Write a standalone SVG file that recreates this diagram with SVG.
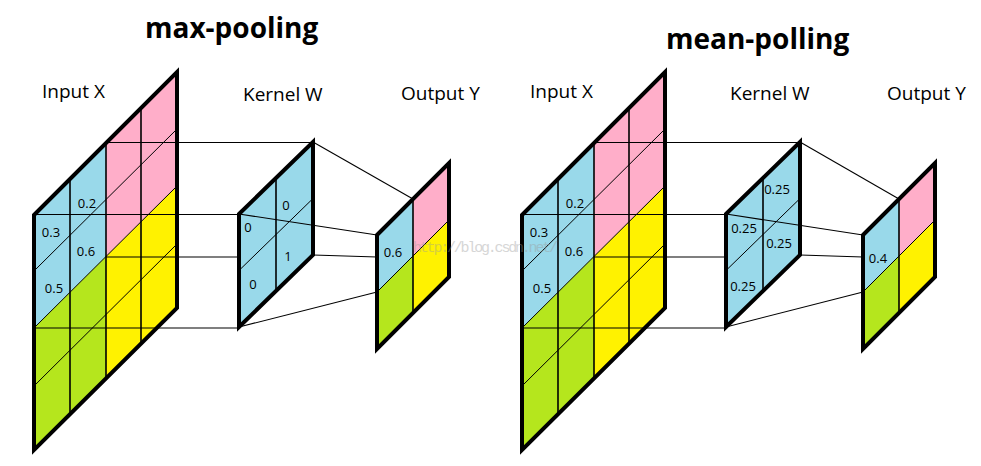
<svg xmlns="http://www.w3.org/2000/svg" width="981" height="466" viewBox="0 0 981 466">
<style>
.bg{fill:#ffffff}
.blue{fill:#99d9ea}
.pink{fill:#ffaec9}
.yellow{fill:#fff200}
.green{fill:#b5e61d}
.outline{fill:none;stroke:#000;stroke-width:4;stroke-linejoin:miter;stroke-miterlimit:3}
.vline{stroke:#000;stroke-width:1.6;fill:none}
.dline{stroke:#000;stroke-width:1;fill:none}
.conn{stroke:#000;stroke-width:1.1;fill:none}
.title{font-family:"Open Sans","Noto Sans","Liberation Sans",sans-serif;font-weight:bold;font-size:28px;fill:#000}
.label{font-family:"Open Sans","Noto Sans","Liberation Sans",sans-serif;font-size:19px;fill:#000}
.num{font-family:"Open Sans","Noto Sans","Liberation Sans",sans-serif;font-size:13px;fill:#000;text-anchor:middle}
.wm{font-family:"Liberation Mono","DejaVu Sans Mono",monospace;font-size:15px;fill:#9a9a9a;opacity:0.4}
</style>
<rect class="bg" x="0" y="0" width="981" height="466"/>

<!-- LEFT: max-pooling -->
<g id="title-max">
<text class="title" x="145" y="38">max-pooling</text>
</g>
<g id="label-input-left"><text class="label" x="42" y="98">Input X</text></g>
<g id="label-kernel-left"><text class="label" x="243" y="101">Kernel W</text></g>
<g id="label-output-left"><text class="label" x="401" y="100">Output Y</text></g>

<g id="input-left">
<polygon class="blue" points="34,215 106,143 106,256.5 34,328"/>
<polygon class="pink" points="106,143 177,72 177,186 106,256.5"/>
<polygon class="green" points="34,328 106,256.5 106,378.5 34,450"/>
<polygon class="yellow" points="106,256.5 177,186 177,308 106,378.5"/>
<line class="vline" x1="70" y1="179" x2="70" y2="414.3"/>
<line class="vline" x1="106" y1="143" x2="106" y2="378.5"/>
<line class="vline" x1="141" y1="108" x2="141" y2="343.7"/>
<line class="dline" x1="34" y1="271" x2="177" y2="129"/>
<line class="dline" x1="34" y1="328" x2="177" y2="186"/>
<line class="dline" x1="34" y1="386" x2="177" y2="244"/>
<polygon class="outline" points="34,215 177,72 177,308 34,450"/>
<text class="num" x="87" y="208">0.2</text>
<text class="num" x="51" y="237">0.3</text>
<text class="num" x="86" y="256">0.6</text>
<text class="num" x="54" y="293">0.5</text>
</g>

<g id="kernel-left">
<polygon class="blue" points="239,214 313,142 313,255 239,327"/>
<line class="vline" x1="276" y1="178" x2="276" y2="291"/>
<line class="dline" x1="239" y1="270.5" x2="313" y2="198.5"/>
<polygon class="outline" points="239,214 313,142 313,255 239,327"/>
<text class="num" x="286" y="210">0</text>
<text class="num" x="248" y="232">0</text>
<text class="num" x="288" y="261">1</text>
<text class="num" x="253" y="289">0</text>
</g>

<g id="output-left">
<polygon class="blue" points="377,235 413,199 413,256 377,292"/>
<polygon class="pink" points="413,199 449,163 449,220 413,256"/>
<polygon class="green" points="377,292 413,256 413,313 377,349"/>
<polygon class="yellow" points="413,256 449,220 449,277 413,313"/>
<line class="vline" x1="413" y1="199" x2="413" y2="313"/>
<line class="dline" x1="377" y1="292" x2="449" y2="220"/>
<polygon class="outline" points="377,235 449,163 449,277 377,349"/>
<text class="num" x="393" y="257">0.6</text>
</g>

<!-- RIGHT: mean-polling -->
<g id="title-mean">
<text class="title" x="666" y="49">mean-polling</text>
</g>
<g id="label-input-right"><text class="label" x="530" y="98">Input X</text></g>
<g id="label-kernel-right"><text class="label" x="730" y="100">Kernel W</text></g>
<g id="label-output-right"><text class="label" x="887" y="100">Output Y</text></g>

<g id="input-right" transform="translate(488,0)">
<polygon class="blue" points="34,215 106,143 106,256.5 34,328"/>
<polygon class="pink" points="106,143 177,72 177,186 106,256.5"/>
<polygon class="green" points="34,328 106,256.5 106,378.5 34,450"/>
<polygon class="yellow" points="106,256.5 177,186 177,308 106,378.5"/>
<line class="vline" x1="70" y1="179" x2="70" y2="414.3"/>
<line class="vline" x1="106" y1="143" x2="106" y2="378.5"/>
<line class="vline" x1="141" y1="108" x2="141" y2="343.7"/>
<line class="dline" x1="34" y1="271" x2="177" y2="129"/>
<line class="dline" x1="34" y1="328" x2="177" y2="186"/>
<line class="dline" x1="34" y1="386" x2="177" y2="244"/>
<polygon class="outline" points="34,215 177,72 177,308 34,450"/>
<text class="num" x="87" y="208">0.2</text>
<text class="num" x="51" y="237">0.3</text>
<text class="num" x="86" y="256">0.6</text>
<text class="num" x="54" y="293">0.5</text>
</g>

<g id="kernel-right" transform="translate(487,0)">
<polygon class="blue" points="239,214 313,142 313,255 239,327"/>
<line class="vline" x1="276" y1="178" x2="276" y2="291"/>
<line class="dline" x1="239" y1="270.5" x2="313" y2="198.5"/>
<polygon class="outline" points="239,214 313,142 313,255 239,327"/>
<text class="num" x="290" y="194">0.25</text>
<text class="num" x="257" y="233">0.25</text>
<text class="num" x="292" y="248">0.25</text>
<text class="num" x="256" y="291">0.25</text>
</g>

<g id="output-right" transform="translate(486,0)">
<polygon class="blue" points="377,235 413,199 413,256 377,292"/>
<polygon class="pink" points="413,199 449,163 449,220 413,256"/>
<polygon class="green" points="377,292 413,256 413,313 377,349"/>
<polygon class="yellow" points="413,256 449,220 449,277 413,313"/>
<line class="vline" x1="413" y1="199" x2="413" y2="313"/>
<line class="dline" x1="377" y1="292" x2="449" y2="220"/>
<polygon class="outline" points="377,235 449,163 449,277 377,349"/>
<text class="num" x="392" y="263">0.4</text>
</g>

<g id="connectors">
<g id="connectors-left">
<line class="conn" x1="106" y1="142.5" x2="313" y2="142.5"/>
<line class="conn" x1="34" y1="214.5" x2="239" y2="214.5"/>
<line class="conn" x1="106" y1="257" x2="239" y2="257"/>
<line class="conn" x1="34" y1="328" x2="239" y2="328"/>
<line class="conn" x1="313" y1="142" x2="413" y2="199"/>
<line class="conn" x1="239" y1="214" x2="377" y2="235"/>
<line class="conn" x1="313" y1="255" x2="377" y2="257"/>
<line class="conn" x1="239" y1="327" x2="377" y2="292"/>
</g>
<g id="connectors-right">
<line class="conn" x1="594" y1="142.5" x2="800" y2="142.5"/>
<line class="conn" x1="522" y1="214.5" x2="726" y2="214.5"/>
<line class="conn" x1="594" y1="257" x2="726" y2="257"/>
<line class="conn" x1="522" y1="328" x2="726" y2="328"/>
<line class="conn" x1="800" y1="142" x2="899" y2="199"/>
<line class="conn" x1="726" y1="214" x2="863" y2="235"/>
<line class="conn" x1="800" y1="255" x2="863" y2="257"/>
<line class="conn" x1="726" y1="327" x2="863" y2="292"/>
</g>
</g>

<g id="watermark">
<text class="wm" x="413" y="252" textLength="145" lengthAdjust="spacing">http://blog.csdn.net/</text>
</g>
</svg>
